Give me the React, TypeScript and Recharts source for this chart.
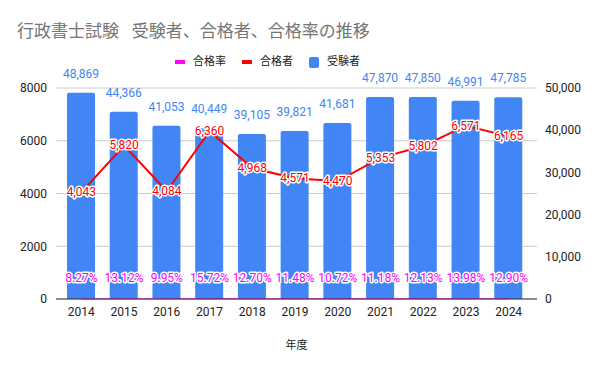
import React from 'react';
import {
  ComposedChart,
  Bar,
  Line,
  XAxis,
  YAxis,
  CartesianGrid,
  LabelList
} from 'recharts';

// 年度
const years = ['2014', '2015', '2016', '2017', '2018', '2019', '2020', '2021', '2022', '2023', '2024'];
// 受験者
const examinees = [48869, 44366, 41053, 40449, 39105, 39821, 41681, 47870, 47850, 46991, 47785];
// 合格者
const passers = [4043, 5820, 4084, 6360, 4968, 4571, 4470, 5353, 5802, 6571, 6165];
// 合格率 (%)
const passRates = [8.27, 13.12, 9.95, 15.72, 12.7, 11.48, 10.72, 11.18, 12.13, 13.98, 12.9];

const leftTicks = [0, 2000, 4000, 6000, 8000];
const rightTicks = [0, 10000, 20000, 30000, 40000, 50000];

const data = years.map((year, i) => ({
  year,
  examinees: examinees[i],
  passers: passers[i],
  passRate: passRates[i]
}));

const FONT = "Roboto, 'Noto Sans CJK JP', sans-serif";
const BLUE = '#4285f4';
const RED = '#ff0000';
const MAGENTA = '#ff00ff';

const withCommas = (v: number) => v.toLocaleString('en-US');

const outlinedLabel = (color: string, dy: number, format: (v: number) => string) => (props: any) => {
  const { x, y, value } = props;
  return (
    <text
      x={x}
      y={y + dy}
      fill={color}
      stroke="#fff"
      strokeWidth={3}
      strokeLinejoin="round"
      paintOrder="stroke"
      textAnchor="middle"
      dominantBaseline="central"
      fontSize={12}
      fontFamily={FONT}
    >
      {format(value)}
    </text>
  );
};

const legendItems = [
  { name: '合格率', color: MAGENTA, w: 10, h: 4 },
  { name: '合格者', color: RED, w: 10, h: 4 },
  { name: '受験者', color: BLUE, w: 10, h: 11 }
];

export default function App() {
  return (
    <div style={{ position: 'absolute', left: 0, top: 0, width: 600, height: 371, background: '#fff' }}>
      <div
        style={{
          position: 'absolute',
          left: 17,
          top: 21,
          fontSize: 17,
          lineHeight: '20px',
          color: '#757575',
          fontFamily: FONT,
          whiteSpace: 'pre'
        }}
      >
        行政書士試験   受験者、合格者、合格率の推移
      </div>
      <div
        style={{
          position: 'absolute',
          left: 175,
          top: 54,
          display: 'flex',
          alignItems: 'center',
          fontSize: 11,
          lineHeight: '16px',
          color: '#222',
          fontFamily: FONT
        }}
      >
        {legendItems.map((it) => (
          <div key={it.name} style={{ display: 'flex', alignItems: 'center', marginRight: 16 }}>
            <span
              style={{
                display: 'inline-block',
                width: it.w,
                height: it.h,
                background: it.color,
                borderRadius: it.h > 5 ? 2 : 0,
                marginRight: 8
              }}
            />
            <span>{it.name}</span>
          </div>
        ))}
      </div>
      <ComposedChart
        width={600}
        height={371}
        data={data}
        margin={{ top: 88, right: 0, bottom: 22, left: 6 }}
      >
        <CartesianGrid yAxisId="left" vertical={false} stroke="#cccccc" />
        <XAxis
          dataKey="year"
          height={50}
          padding={{ left: 4, right: 7 }}
          tickLine={false}
          tickMargin={2}
          axisLine={{ stroke: '#333333' }}
          tick={{ fill: '#222', fontSize: 12, fontFamily: FONT }}
          label={{ value: '年度', position: 'insideBottom', offset: 0, fill: '#222', fontSize: 11, fontFamily: FONT }}
        />
        <YAxis
          yAxisId="left"
          orientation="left"
          width={50}
          domain={[0, 8000]}
          ticks={leftTicks}
          tickLine={false}
          axisLine={false}
          tickMargin={3}
          tick={{ fill: '#222', fontSize: 12, fontFamily: FONT }}
        />
        <YAxis
          yAxisId="right"
          orientation="right"
          width={63}
          domain={[0, 50000]}
          ticks={rightTicks}
          tickFormatter={withCommas}
          tickLine={false}
          axisLine={false}
          tickMargin={2}
          tick={{ fill: '#222', fontSize: 12, fontFamily: FONT, textAnchor: 'start' }}
        />
        <Bar
          yAxisId="right"
          dataKey="examinees"
          name="受験者"
          fill={BLUE}
          barSize={28}
          radius={[2, 2, 0, 0]}
          isAnimationActive={false}
        >
          <LabelList
            dataKey="examinees"
            position="top"
            offset={15}
            formatter={(v: any) => withCommas(Number(v))}
            fill={BLUE}
            fontSize={12}
            fontFamily={FONT}
          />
        </Bar>
        <Line
          yAxisId="left"
          dataKey="passers"
          name="合格者"
          stroke={RED}
          strokeWidth={2}
          dot={false}
          activeDot={false}
          isAnimationActive={false}
        >
          <LabelList dataKey="passers" content={outlinedLabel(RED, 0, withCommas)} />
        </Line>
        <Line
          yAxisId="left"
          dataKey="passRate"
          name="合格率"
          stroke={MAGENTA}
          strokeWidth={1.2}
          strokeOpacity={0.7}
          dot={false}
          activeDot={false}
          isAnimationActive={false}
        >
          <LabelList dataKey="passRate" content={outlinedLabel(MAGENTA, -21, (v) => v.toFixed(2) + '%')} />
        </Line>
      </ComposedChart>
    </div>
  );
}
